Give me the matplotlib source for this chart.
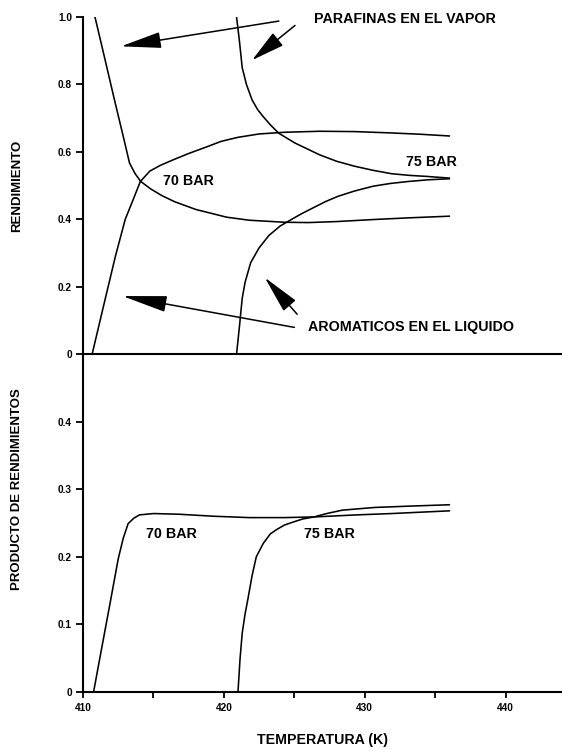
import matplotlib
matplotlib.use('Agg')
import matplotlib.pyplot as plt
from matplotlib import font_manager
from matplotlib.ticker import MultipleLocator, FixedLocator

# rendimientos (fraccion) vs temperatura (K)
par70_T = [410.85, 411.5, 412.2, 412.9, 413.3, 413.7, 414.1, 414.8, 415.6, 416.5, 418.0, 420.2,
           421.8, 424.3, 426.0, 428.0, 430.6, 433.1, 436.0]
par70_Y = [1.00, 0.885, 0.76, 0.638, 0.567, 0.535, 0.512, 0.490, 0.470, 0.452, 0.429, 0.406,
           0.397, 0.391, 0.390, 0.393, 0.399, 0.404, 0.409]

aro70_T = [410.65, 411.5, 412.3, 413.0, 413.55, 414.07, 414.75, 415.5, 416.5, 417.5, 418.8, 419.8,
           421.0, 422.5, 424.3, 426.8, 429.3, 431.9, 434.0, 436.0]
aro70_Y = [0.0, 0.15, 0.29, 0.40, 0.457, 0.512, 0.543, 0.560, 0.578, 0.595, 0.615, 0.631,
           0.643, 0.653, 0.658, 0.661, 0.660, 0.656, 0.652, 0.647]

par75_T = [420.9, 421.1, 421.3, 421.6, 422.0, 422.4, 422.8, 423.3, 423.9, 425.05, 426.8, 428.0,
           429.3, 430.6, 431.9, 433.2, 434.4, 436.0]
par75_Y = [1.0, 0.93, 0.85, 0.80, 0.754, 0.725, 0.704, 0.680, 0.655, 0.626, 0.591, 0.572,
           0.557, 0.545, 0.535, 0.530, 0.527, 0.522]

aro75_T = [420.9, 421.1, 421.3, 421.5, 421.9, 422.5, 423.2, 424.0, 424.7, 425.5, 426.3, 427.2,
           428.1, 429.3, 430.6, 431.8, 433.1, 434.5, 436.0]
aro75_Y = [0.0, 0.08, 0.165, 0.212, 0.271, 0.315, 0.352, 0.380, 0.397, 0.416, 0.433, 0.452,
           0.468, 0.484, 0.498, 0.506, 0.512, 0.517, 0.520]

# producto de rendimientos
prod70_T = [410.75, 411.3, 411.9, 412.5, 412.85, 413.2, 413.6, 414.0, 415.0, 416.8, 419.3, 421.8,
            424.3, 426.4, 429.4, 431.9, 436.0]
prod70_Y = [0.0, 0.062, 0.129, 0.197, 0.227, 0.249, 0.257, 0.262, 0.264, 0.263, 0.260, 0.258,
            0.258, 0.259, 0.262, 0.264, 0.268]

prod75_T = [421.0, 421.15, 421.3, 421.5, 421.7, 422.0, 422.3, 422.8, 423.3, 423.8, 424.3, 425.0,
            425.6, 426.4, 427.3, 428.4, 430.7, 433.2, 436.0]
prod75_Y = [0.0, 0.05, 0.087, 0.115, 0.137, 0.172, 0.200, 0.220, 0.234, 0.241, 0.247, 0.252,
            0.256, 0.259, 0.264, 0.269, 0.273, 0.275, 0.277]

top_ticks = [0, 0.2, 0.4, 0.6, 0.8, 1.0]
top_ticklabels = ['0', '0.2', '0.4', '0.6', '0.8', '1.0']
bot_ticks = [0, 0.1, 0.2, 0.3, 0.4]
bot_ticklabels = ['0', '0.1', '0.2', '0.3', '0.4']
x_ticks = [410, 420, 430, 440]

# letra estrecha si esta instalada
names = {f.name for f in font_manager.fontManager.ttflist}
if 'Liberation Sans Narrow' in names:
    fam = 'Liberation Sans Narrow'
    s_txt, s_ylab, s_xlab = 13, 11.5, 12.5
else:
    fam = 'Liberation Sans'
    s_txt, s_ylab, s_xlab = 10.3, 9.5, 10.2
plt.rcParams['font.family'] = [fam, 'DejaVu Sans']

LW = 1.15
tick_font = dict(fontsize=7.3, fontweight='bold', family='Liberation Sans')

fig = plt.figure(figsize=(5.62, 7.5), dpi=100)
ax1 = fig.add_axes([0.1477, 0.528, 0.8523, 0.4493])
ax2 = fig.add_axes([0.1477, 0.0773, 0.8523, 0.4507])

for ax in (ax1, ax2):
    ax.set_xlim(410, 444)
    ax.spines['top'].set_visible(False)
    ax.spines['right'].set_visible(False)
    ax.spines['left'].set_linewidth(1.5)
    ax.spines['bottom'].set_linewidth(1.5)
    ax.tick_params(axis='y', direction='out', length=5, width=1.3, pad=3)
    ax.patch.set_alpha(0)

# --- panel superior ---
ax1.plot(par70_T, par70_Y, color='black', lw=LW)
ax1.plot(aro70_T, aro70_Y, color='black', lw=LW)
ax1.plot(par75_T, par75_Y, color='black', lw=LW)
ax1.plot(aro75_T, aro75_Y, color='black', lw=LW)
ax1.set_ylim(0, 1.0)
ax1.yaxis.set_major_locator(FixedLocator(top_ticks))
ax1.set_yticklabels(top_ticklabels, **tick_font)
ax1.tick_params(axis='x', bottom=False, labelbottom=False)

ax1.text(415.7, 0.513, '70 BAR', fontsize=s_txt, fontweight='bold', va='center')
ax1.text(432.9, 0.571, '75 BAR', fontsize=s_txt, fontweight='bold', va='center')
ax1.text(426.4, 0.995, 'PARAFINAS EN EL VAPOR', fontsize=s_txt, fontweight='bold', va='center')
ax1.text(426.0, 0.079, 'AROMATICOS EN EL LIQUIDO', fontsize=s_txt, fontweight='bold', va='center')

arrows = [((423.9, 0.988), (412.7, 0.913), 1.8),
          ((425.05, 0.975), (422.0, 0.872), 1.5),
          ((425.0, 0.079), (412.8, 0.172), 2.0),
          ((425.2, 0.118), (422.9, 0.227), 1.7)]
for tail, tip, hl in arrows:
    ax1.annotate('', xy=tip, xytext=tail,
                 arrowprops=dict(arrowstyle='-|>,head_length=%.1f,head_width=0.36' % hl,
                                 mutation_scale=14, lw=1.1, color='black',
                                 shrinkA=0, shrinkB=0))

ax1.set_ylabel('RENDIMIENTO', fontsize=s_ylab, fontweight='bold')
ax1.yaxis.set_label_coords(-0.125, 0.5)

# --- panel inferior ---
ax2.plot(prod70_T, prod70_Y, color='black', lw=LW)
ax2.plot(prod75_T, prod75_Y, color='black', lw=LW)
ax2.set_ylim(0, 0.5)
ax2.yaxis.set_major_locator(FixedLocator(bot_ticks))
ax2.set_yticklabels(bot_ticklabels, **tick_font)
ax2.xaxis.set_major_locator(FixedLocator(x_ticks))
ax2.xaxis.set_minor_locator(MultipleLocator(5))
ax2.set_xticklabels([str(t) for t in x_ticks], **tick_font)
ax2.tick_params(axis='x', which='both', direction='out', length=4, width=1.3, pad=4)

ax2.text(414.5, 0.234, '70 BAR', fontsize=s_txt, fontweight='bold', va='center')
ax2.text(425.7, 0.234, '75 BAR', fontsize=s_txt, fontweight='bold', va='center')

ax2.set_ylabel('PRODUCTO DE RENDIMIENTOS', fontsize=s_ylab, fontweight='bold')
ax2.yaxis.set_label_coords(-0.125, 0.6)
ax2.set_xlabel('TEMPERATURA (K)', fontsize=s_xlab, fontweight='bold')
ax2.xaxis.set_label_coords(0.5, -0.12)

fig.savefig('out.png', dpi=100)
